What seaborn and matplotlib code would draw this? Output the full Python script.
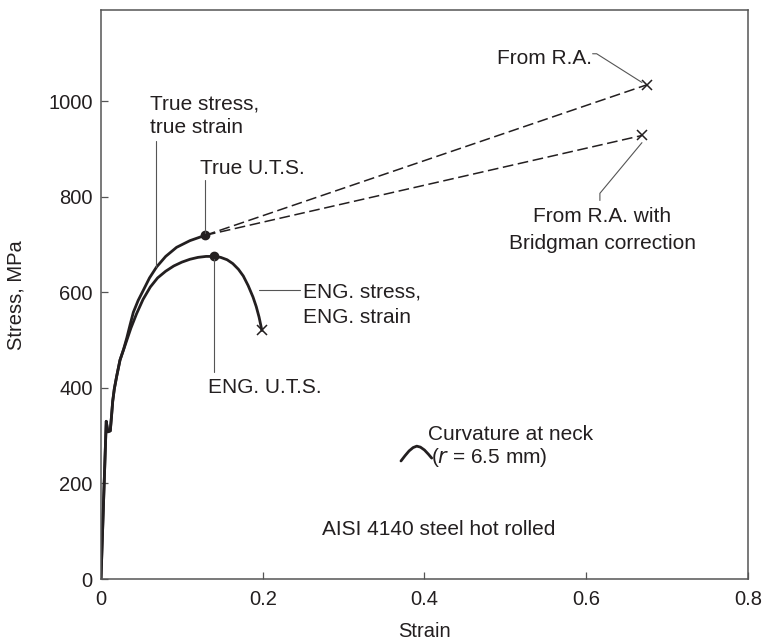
import seaborn as sns
import pandas as pd
import matplotlib.pyplot as plt

# Engineering stress-strain curve
eng_strain = [0, 0.0065, 0.0085, 0.0115, 0.013, 0.0145, 0.0165, 0.0195, 0.0235, 0.028, 0.032,
              0.037, 0.044, 0.052, 0.061, 0.070, 0.080, 0.090, 0.100, 0.110, 0.120, 0.130,
              0.140, 0.148, 0.156, 0.163, 0.170, 0.176, 0.182, 0.188, 0.192, 0.1955, 0.199]
eng_stress = [0, 330, 308, 310, 340, 372, 398, 425, 458, 480, 500,
              525, 555, 585, 611, 630, 644, 655, 663, 669, 673, 675,
              675, 673, 668, 660, 648, 634, 614, 590, 570, 548, 520]

# True stress-strain curve up to the true U.T.S.
true_strain = [0, 0.0065, 0.0085, 0.0115, 0.013, 0.0145, 0.0165, 0.0195, 0.0235, 0.028, 0.032,
               0.036, 0.040, 0.046, 0.0523, 0.060, 0.0688, 0.080, 0.0935, 0.11, 0.1286]
true_stress = [0, 330, 308, 310, 340, 372, 398, 425, 458, 481, 505,
               532, 558, 583, 604, 630, 653, 675, 694, 708, 719]

# Extrapolations to fracture
ra_strain = [0.1286, 0.675]
ra_stress = [719, 1034]
bridg_strain = [0.1286, 0.669]
bridg_stress = [719, 928]

uts_strain = [0.1286, 0.140]
uts_stress = [719, 675]

# small neck-curvature sketch
arc_x = [0.371, 0.376, 0.381, 0.386, 0.3905, 0.395, 0.400, 0.405, 0.409]
arc_y = [247, 258, 268, 275, 278, 276, 270, 261, 253]

ink = '#231f20'
grey = '#555555'

sns.set_style('ticks')
plt.rcParams['font.family'] = ['Liberation Sans', 'DejaVu Sans']

fig, ax = plt.subplots(figsize=(7.75, 6.42), dpi=100)
fig.subplots_adjust(left=0.1303, right=0.965, bottom=0.0981, top=0.984)

eng = pd.DataFrame({'strain': eng_strain, 'stress': eng_stress})
tru = pd.DataFrame({'strain': true_strain, 'stress': true_stress})
sns.lineplot(data=eng, x='strain', y='stress', sort=False, estimator=None, color=ink, lw=2.0, ax=ax)
sns.lineplot(data=tru, x='strain', y='stress', sort=False, estimator=None, color=ink, lw=2.0, ax=ax)

ax.plot(ra_strain, ra_stress, color=ink, lw=1.1, ls=(0, (7, 3)))
ax.plot(bridg_strain, bridg_stress, color=ink, lw=1.1, ls=(0, (7, 3)))
ax.plot([ra_strain[1], bridg_strain[1], eng_strain[-1]],
        [ra_stress[1], bridg_stress[1], eng_stress[-1]],
        ls='none', marker='x', ms=7, mew=1.1, color=ink)
ax.plot(uts_strain, uts_stress, ls='none', marker='o', ms=6, color=ink)
ax.plot(arc_x, arc_y, color=ink, lw=2.0, solid_capstyle='round')

# leader lines
lk = dict(color=grey, lw=0.8)
ax.plot([0.068, 0.068], [917, 653], **lk)
ax.plot([0.1286, 0.1286], [835, 725], **lk)
ax.plot([0.140, 0.140], [670, 433], **lk)
ax.plot([0.195, 0.246], [604, 604], **lk)
ax.plot([0.608, 0.613, 0.669], [1099, 1099, 1039], **lk)
ax.plot([0.617, 0.617, 0.669], [792, 807, 913], **lk)

fs = 15
tk = dict(fontsize=fs, color=ink, va='baseline')
ax.text(0.0606, 982, 'True stress,', **tk)
ax.text(0.0606, 934, 'true strain', **tk)
ax.text(0.1224, 848, 'True U.T.S.', **tk)
ax.text(0.1323, 389, 'ENG. U.T.S.', **tk)
ax.text(0.2498, 589, 'ENG. stress,', **tk)
ax.text(0.2498, 535, 'ENG. strain', **tk)
ax.text(0.607, 1078, 'From R.A.', ha='right', **tk)
ax.text(0.620, 747, 'From R.A. with', ha='center', **tk)
ax.text(0.620, 691, 'Bridgman correction', ha='center', **tk)
ax.text(0.404, 290, 'Curvature at neck', **tk)
ax.text(0.408, 242, '($\\it{r}$ = 6.5 mm)', **tk)
ax.text(0.418, 92, 'AISI 4140 steel hot rolled', ha='center', **tk)

ax.set_xlim(0, 0.8)
ax.set_ylim(0, 1190)
ax.set_xticks([0, 0.2, 0.4, 0.6, 0.8])
ax.set_xticklabels(['0', '0.2', '0.4', '0.6', '0.8'])
ax.set_yticks([0, 200, 400, 600, 800, 1000])
ax.tick_params(direction='in', length=5, width=0.9, color=grey, labelsize=14.5, labelcolor=ink)
ax.tick_params(axis='x', pad=8)
ax.tick_params(axis='y', pad=6)
for s in ax.spines.values():
    s.set_color(grey)
    s.set_linewidth(1.1)
ax.set_xlabel('Strain', fontsize=14.5, color=ink, labelpad=9)
ax.set_ylabel('Stress, MPa', fontsize=14.5, color=ink, labelpad=16)

fig.savefig('out.png', dpi=100)
